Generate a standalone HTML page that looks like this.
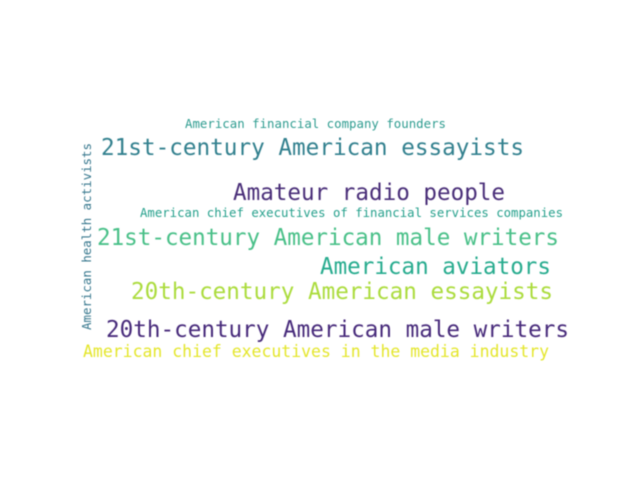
<!DOCTYPE html>
<html lang="en">
<head>
<meta charset="utf-8">
<title>Word cloud</title>
<style>
html,body{margin:0;padding:0;background:#fff;width:640px;height:480px;overflow:hidden}
svg{display:block}
text{font-family:"DejaVu Sans Mono","Liberation Mono",monospace;white-space:pre}
</style>
</head>
<body>
<svg width="640" height="480" viewBox="0 0 640 480">
<defs><filter id="soft" x="-5%" y="-5%" width="110%" height="110%"><feGaussianBlur stdDeviation="0.5"/></filter></defs>
<rect width="640" height="480" fill="#fff"/>
<g filter="url(#soft)">
<text x="185" y="128" font-size="12.4" fill="#2f9c90" textLength="261" lengthAdjust="spacingAndGlyphs">American financial company founders</text>
<text x="101" y="155" font-size="22.7" fill="#33808e" textLength="423" lengthAdjust="spacingAndGlyphs">21st-century American essayists</text>
<text x="233" y="200" font-size="22.7" fill="#482d78" textLength="272" lengthAdjust="spacingAndGlyphs">Amateur radio people</text>
<text x="140" y="217" font-size="12.1" fill="#26a08c" textLength="423" lengthAdjust="spacingAndGlyphs">American chief executives of financial services companies</text>
<text x="97" y="245" font-size="22.7" fill="#48c088" textLength="462" lengthAdjust="spacingAndGlyphs">21st-century American male writers</text>
<text x="320" y="274" font-size="22.7" fill="#25ab8e" textLength="231" lengthAdjust="spacingAndGlyphs">American aviators</text>
<text x="131" y="299" font-size="22.7" fill="#abdc3c" textLength="422" lengthAdjust="spacingAndGlyphs">20th-century American essayists</text>
<text x="106" y="337" font-size="22.7" fill="#472a7a" textLength="463" lengthAdjust="spacingAndGlyphs">20th-century American male writers</text>
<text x="83" y="357" font-size="16.5" fill="#e4e62c" textLength="466" lengthAdjust="spacingAndGlyphs">American chief executives in the media industry</text>
<text transform="translate(91 330) rotate(-90)" x="0" y="0" font-size="12.4" fill="#38788e" textLength="187" lengthAdjust="spacingAndGlyphs">American health activists</text>
</g>
</svg>
</body>
</html>
